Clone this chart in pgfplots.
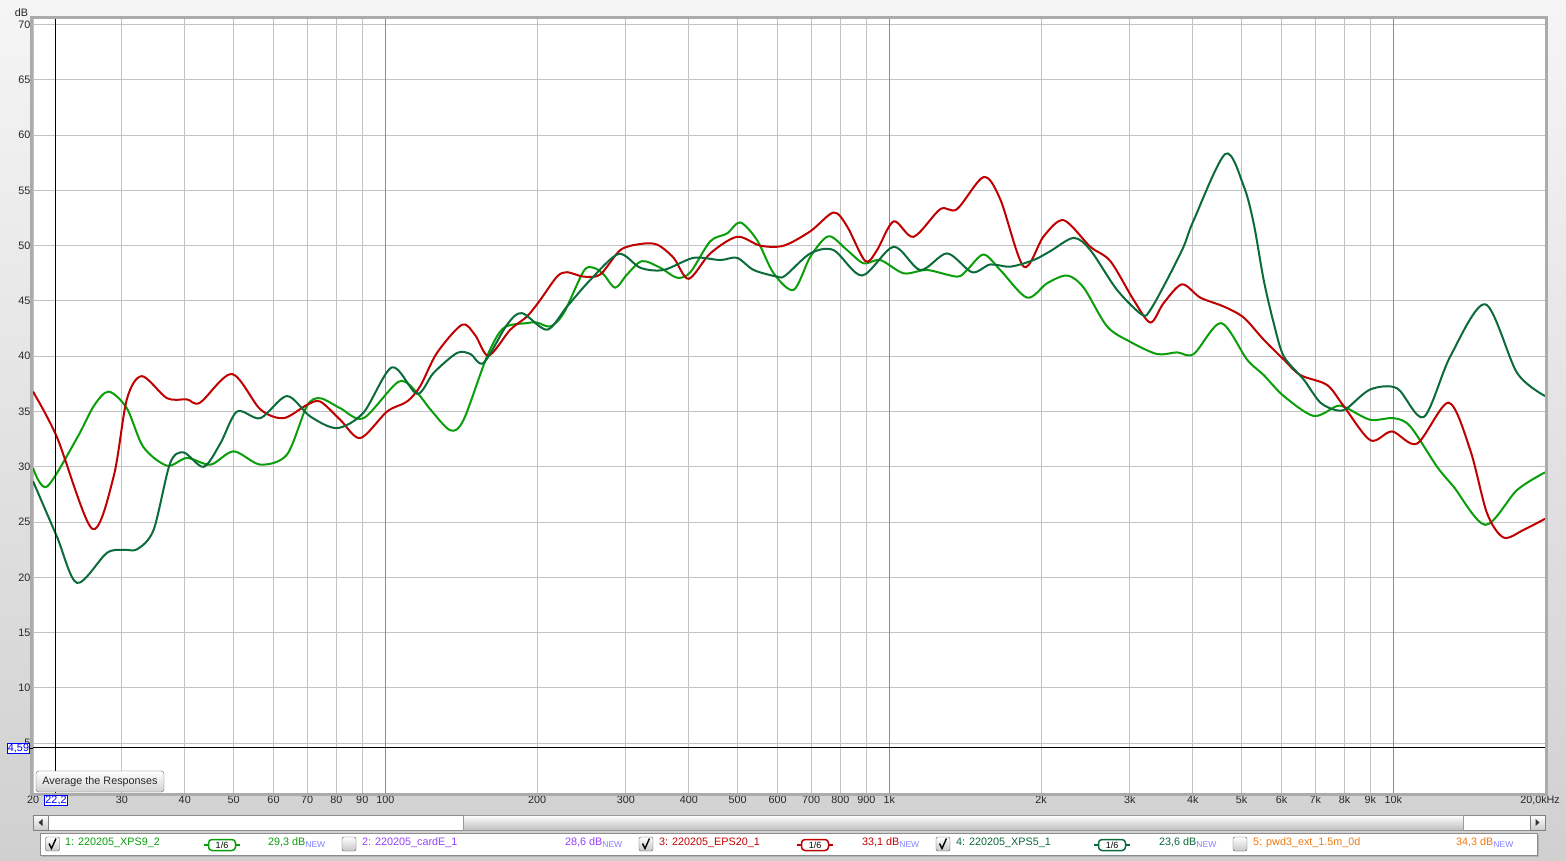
\documentclass[border=0pt]{standalone}
\usepackage{pgfplots}
\pgfplotsset{compat=1.18}
\usepackage{fontspec}
\setmainfont{Liberation Sans}
\definecolor{cLG}{HTML}{0A9E0A}
\definecolor{cDG}{HTML}{0B6B3A}
\definecolor{cRD}{HTML}{C00000}
\definecolor{cPU}{HTML}{9440FF}
\definecolor{cOR}{HTML}{F07A10}
\definecolor{cNEW}{HTML}{8080FF}
\definecolor{gridminor}{HTML}{C2C2C2}
\definecolor{gridmajor}{HTML}{8C8C8C}
\definecolor{framegray}{HTML}{ABABAB}

\pgfplotstableread{
f db
20 29.9
21.3 28.2
24.45 32.6
26.4 35.5
28.25 36.8
30.7 35.3
33.1 31.8
36.9 30.1
40.4 30.8
45.0 30.2
50.0 31.4
56.5 30.2
63.8 31.1
69.9 35.5
74.3 36.2
81.4 35.3
90.5 34.4
106.3 37.7
115.6 36.7
122.8 35.2
134.6 33.3
143.0 34.25
159.2 40.0
171.7 42.55
191.1 43.0
200 43.05
212.5 42.7
225.9 43.9
247.5 47.7
259.0 48.0
271.1 47.4
285.9 46.2
301.8 47.4
323.1 48.6
351.3 48.0
379.2 47.1
402.9 47.6
441.3 50.4
476.4 51.1
506.1 52.1
546.5 50.5
589.5 47.5
645.9 46.0
697.1 49.0
757.7 50.85
824.4 49.6
889.2 48.4
959.6 48.7
1068 47.5
1188 47.8
1362 47.2
1426 47.8
1538 49.2
1660 47.8
1876 45.3
2056 46.6
2253 47.3
2430 46.2
2704 42.7
3007 41.3
3398 40.2
3722 40.35
4017 40.2
4551 43.0
5125 39.7
5530 38.3
6061 36.4
6950 34.6
7731 35.5
8093 35.3
9004 34.25
10014 34.4
10806 33.65
12213 30.0
13170 28.2
15224 24.75
17597 27.9
20000 29.5
}\dataXPSnine

\pgfplotstableread{
f db
20 36.8
22.3 32.7
26.2 24.4
28.9 29.1
30.7 36.1
32.9 38.2
36.9 36.2
40.4 36.1
42.9 35.8
49.6 38.4
56.5 35.2
62.8 34.4
69.9 35.6
74.3 35.9
81.4 34.25
89.2 32.6
100.8 35.0
110.4 35.9
117.3 37.3
126.6 40.3
142.0 42.85
150.8 41.9
160.3 40.05
177.0 42.4
191.1 43.6
203.0 45.1
219.1 47.2
229.4 47.6
247.5 47.2
267.1 47.4
292.6 49.6
320.6 50.15
346.0 50.1
373.3 48.9
399.8 47.0
441.3 49.3
498.7 50.8
554.6 50.0
617.2 50.0
697.1 51.3
775.2 53.0
824.4 51.75
896.2 48.6
945.4 49.6
1020 52.2
1117 50.8
1262 53.3
1362 53.3
1538 56.2
1660 54.2
1848 48.1
2024 50.85
2218 52.3
2505 49.9
2745 48.6
3052 45.1
3296 43.05
3501 44.8
3808 46.5
4141 45.3
4606 44.5
5047 43.5
5530 41.5
6061 39.7
6538 38.3
7387 37.4
7969 35.5
9004 32.4
9940 33.2
11144 32.1
12874 35.8
14213 31.5
15343 25.8
16554 23.6
18140 24.3
20000 25.3
}\dataEPS

\pgfplotstableread{
f db
20 28.7
22.3 23.7
24.45 19.5
28.0 22.2
30.25 22.5
32.2 22.55
34.7 24.3
37.4 30.3
39.8 31.3
43.6 30.0
47.05 32.1
50.8 35.0
56.5 34.4
63.8 36.4
71.0 34.55
80.2 33.5
90.5 34.9
103.1 39.0
115.6 36.6
124.7 38.5
138.8 40.3
147.5 40.2
156.7 39.4
174.4 42.85
186.7 43.9
209.4 42.4
229.4 44.5
255.1 46.9
290.3 49.25
320.6 48.0
356.6 47.8
408.9 48.9
462.0 48.7
498.7 48.9
538.1 47.8
598.7 47.2
622 47.3
697.1 49.3
775.2 49.6
882.6 47.3
1020 49.9
1152 47.8
1302 49.3
1459 47.6
1586 48.3
1738 48.1
1933 48.7
2086 49.5
2321 50.7
2505 49.6
2830 46.0
3173 43.75
3296 44.2
3556 46.9
3835 49.9
4017 52.3
4642 58.3
5047 55.4
5284 52.0
5530 46.9
5789 43.0
6061 40.0
6637 37.9
7168 35.8
7731 35.1
8093 35.3
9004 37.0
10170 37.1
11485 34.5
12975 40.0
15224 44.7
17597 38.5
20000 36.4
}\dataXPSfive

\newcommand{\fs}{\fontsize{10.8}{13}\selectfont}
\newcommand{\chkbox}[1]{\draw[top color=white,bottom color=black!22,draw=black!65,rounded corners=2pt] (#1-7,9) rectangle (#1+7,23);}
\newcommand{\chkmark}[1]{\draw[black, line width=1.4pt] (#1-3.5,16.5) -- (#1-1,11.5) -- (#1+3.5,21.5);}
\newcommand{\badge}[2]{\draw[#2, line width=1.5pt] (#1-18,15) -- (#1+18,15);
  \node[draw=#2, line width=1.5pt, fill=white, rounded corners=3.5pt, minimum width=27pt, minimum height=11pt, inner sep=0pt, font=\fontsize{9}{9}\selectfont] at (#1,15) {1/6};}
\newcommand{\legtxt}[3]{\node[anchor=base west, inner sep=0pt, text=#2, font=\fs] at (#1,15) {#3};}
\newcommand{\legdb}[3]{\node[anchor=base west, inner sep=0pt, text=#2, font=\fs] at (#1,15) {#3\textcolor{cNEW}{\fontsize{8.5}{8.5}\selectfont\raisebox{-2.5pt}{NEW}}};}

\begin{document}
\begin{tikzpicture}[x=1pt,y=1pt]
\useasboundingbox (0,0) rectangle (1566,860);
\shade[top color={rgb,255:red,245;green,245;blue,245}, bottom color={rgb,255:red,208;green,208;blue,208}] (0,0) rectangle (1566,860);

\begin{axis}[
  at={(33pt,67pt)}, anchor=south west,
  scale only axis, width=1512pt, height=774pt,
  xmode=log, xmin=20, xmax=20000, ymin=0.5, ymax=70.5,
  axis background/.style={fill=white},
  axis line style={draw=none},
  xtick={20,30,40,50,60,70,80,90,200,300,400,500,600,700,800,900,2000,3000,4000,5000,6000,7000,8000,9000,20000},
  xticklabels={20,30,40,50,60,70,80,90,200,300,400,500,600,700,800,900,2k,3k,4k,5k,6k,7k,8k,9k,{20,0kHz\hspace*{10pt}}},
  extra x ticks={100,1000,10000},
  extra x tick labels={100,1k,10k},
  extra x tick style={grid=major, major grid style={draw=gridmajor, line width=1pt}},
  ytick={5,10,15,20,25,30,35,40,45,50,55,60,65,70},
  yticklabels={5,10,15,20,25,30,35,40,45,50,55,60,65,70},
  grid=major,
  major grid style={draw=gridminor, line width=1pt},
  major tick length=0pt,
  tick style={draw=none},
  ticklabel style={font=\fs, text=black!85},
  xticklabel style={inner sep=2.5pt},
  yticklabel style={inner sep=2.5pt},
  every axis plot/.append style={line width=2pt, smooth, tension=0.5, no markers},
]
\addplot[cLG] table[x=f, y=db] {\dataXPSnine};
\addplot[cRD] table[x=f, y=db] {\dataEPS};
\addplot[cDG] table[x=f, y=db] {\dataXPSfive};
\draw[black, line width=1pt] (axis cs:22.2,0.5) -- (axis cs:22.2,70.5);
\draw[black, line width=1pt] (axis cs:20,4.59) -- (axis cs:20000,4.59);
\end{axis}

% plot frame
\draw[line width=3pt, framegray] (31.5,65.5) rectangle (1546.5,842.5);
\draw[black, line width=1pt] (30,111.8) -- (33,111.8);

% dB label
\node[font=\fs, text=black!85] at (21.5,847.5) {dB};

% cursor labels
\node[draw=blue, fill=white, text=blue, inner sep=0.8pt, line width=0.8pt, font=\fs] at (18.5,111.5) {4,59};
\node[draw=blue, fill=white, text=blue, inner sep=0.8pt, line width=0.8pt, font=\fs] at (56,59.5) {22,2};

% button
\shade[top color=white, bottom color=black!18, draw=black!60, rounded corners=3pt] (36,68) rectangle (164,89);
\node[font=\fs, text=black!85] at (100,78.5) {Average the Responses};

% scrollbar
\draw[fill=white, draw=black!45] (33,30) rectangle (1545,45);
\shade[top color=white, bottom color=black!25, draw=black!40] (463,30) rectangle (1463,45);
\shade[top color=white, bottom color=black!20, draw=black!50] (33,30) rectangle (48,45);
\shade[top color=white, bottom color=black!20, draw=black!50] (1530,30) rectangle (1545,45);
\fill[black!80] (38.5,37.5) -- (42.5,41) -- (42.5,34) -- cycle;
\fill[black!80] (1539.5,37.5) -- (1535.5,41) -- (1535.5,34) -- cycle;

% legend
\fill[black!30] (42,3) rectangle (1539,25);
\draw[fill=white, draw=black!45] (40,5) rectangle (1537,27);
\chkbox{52.5}\chkmark{52.5}
\legtxt{65}{cLG}{1: 220205\_XPS9\_2}
\badge{222}{cLG}
\legdb{268}{cLG}{29,3 dB}
\chkbox{349}
\legtxt{362}{cPU}{2: 220205\_cardE\_1}
\legdb{565}{cPU}{28,6 dB}
\chkbox{646}\chkmark{646}
\legtxt{659}{cRD}{3: 220205\_EPS20\_1}
\badge{815}{cRD}
\legdb{862}{cRD}{33,1 dB}
\chkbox{943}\chkmark{943}
\legtxt{956}{cDG}{4: 220205\_XPS5\_1}
\badge{1112}{cDG}
\legdb{1159}{cDG}{23,6 dB}
\chkbox{1240}
\legtxt{1253}{cOR}{5: pwd3\_ext\_1.5m\_0d}
\legdb{1456}{cOR}{34,3 dB}
\end{tikzpicture}
\end{document}
